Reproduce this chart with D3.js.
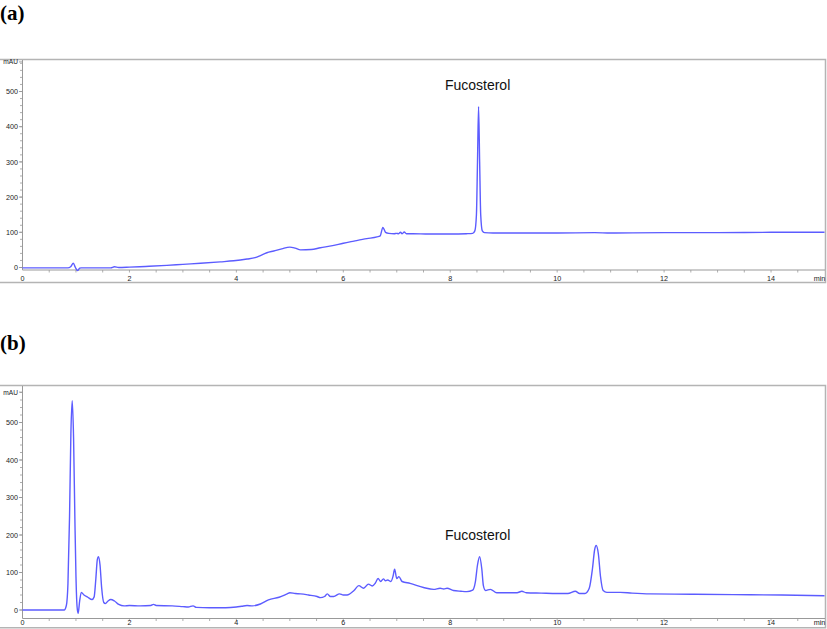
<!DOCTYPE html>
<html>
<head>
<meta charset="utf-8">
<script src="https://cdn.jsdelivr.net/npm/d3@7"></script>
<style>
  html, body { margin: 0; padding: 0; background: #fff; }
  svg { display: block; }
</style>
</head>
<body>
<svg id="chart" width="827" height="629"></svg>
<script>
// ---- Data ----
const timesA = [0,0.5,0.85,0.9,0.95,0.99,1.03,1.07,1.1,1.5,1.65,1.72,1.8,2.0,2.3,2.7,3.0,3.33,3.7,3.95,4.2,4.35,4.45,4.57,4.7,4.85,5.0,5.1,5.2,5.4,5.57,5.8,6.0,6.2,6.44,6.63,6.69,6.74,6.79,6.85,6.95,7.0,7.03,7.07,7.1,7.14,7.18,7.3,7.6,8.0,8.3,8.42,8.46,8.49,8.51,8.53,8.55,8.57,8.6,8.64,8.8,9.3,10.0,10.7,11.0,12,13,14,15];
const valuesA = [-1,-1,-1,2,12,0,-9,-2,-1,-1,-1,2,0,1,3,6,9,12,16,19,24,28,34,42,47,53,58,55,50,51,56,62,69,75,82,87,90,114,100,97,96,97,96,100,96,101,96,96,95,95,96,97,104,150,300,457,300,150,104,99,98,98,98,99,98,99,99,100,100];

const timesB = [0,0.5,0.78,0.82,0.85,0.88,0.905,0.93,0.955,0.98,1.0,1.02,1.04,1.07,1.1,1.15,1.22,1.3,1.34,1.37,1.4,1.42,1.45,1.48,1.52,1.55,1.6,1.65,1.72,1.8,1.9,2.0,2.2,2.4,2.45,2.5,2.8,3.0,3.1,3.19,3.25,3.5,3.8,4.0,4.1,4.2,4.3,4.45,4.6,4.8,4.95,5.0,5.1,5.2,5.35,5.51,5.57,5.65,5.7,5.76,5.82,5.93,6.0,6.07,6.2,6.29,6.38,6.47,6.54,6.6,6.65,6.7,6.75,6.79,6.83,6.89,6.93,6.96,7.0,7.04,7.1,7.25,7.5,7.69,7.81,7.88,7.94,8.06,8.2,8.31,8.42,8.47,8.51,8.55,8.59,8.62,8.66,8.75,8.87,9.0,9.25,9.34,9.42,9.7,10.0,10.2,10.34,10.42,10.52,10.6,10.66,10.7,10.73,10.77,10.81,10.86,10.93,11.18,11.4,11.74,12.5,13.3,14.2,15];
const valuesB = [0,0,0,12,70,250,470,558,460,240,90,10,-9,25,47,40,34,28,35,80,135,142,120,60,20,17,24,28,24,15,11,12,11,12,15,12,11,9,8,11,7,6,6,8,10,12,11,16,27,34,43,46,44,43,40,36,33,36,43,36,36,43,40,40,52,65,58,69,64,72,84,76,83,78,80,76,90,109,84,89,76,71,60,55,58,56,58,52,50,49,53,75,120,142,110,65,52,55,46,46,46,50,46,45,44,44,50,44,44,58,110,160,172,150,90,52,47,47,45,43,42,41,40,38];

const xMajorTicks = [0,2,4,6,8,10,12,14];
const xTickLabels = ["0","2","4","6","8","10","12","14"];
const yMajorTicks = [0,100,200,300,400,500];
const yTickLabels = ["0","100","200","300","400","500"];
const panelLabels = ["(a)","(b)"];
const peakLabel = "Fucosterol";
const peakLabelTimes = [8.53, 8.53];

// ---- Layout ----
const svg = d3.select("#chart");
const lineColor = "#5c5cff";
const frameColor = "#b4b4b4";
const axisColor = "#999";
const tickTextColor = "#222";

const panels = [
  { times: timesA, values: valuesA, frameTop: 59.5, frameBottom: 282.5, axisY: 270, tickLabelY: 280.5, y0: 267.5, y500: 91.5, yTop: 60, labelY: 20, mauVal: 584, peakY: 90 },
  { times: timesB, values: valuesB, frameTop: 385.5, frameBottom: 627.8, axisY: 618.5, tickLabelY: 625.3, y0: 610, y500: 422.5, yTop: 386, labelY: 350, mauVal: 581, peakY: 539.5 }
];

const x = d3.scaleLinear().domain([0, 15]).range([22.5, 824.5]);

panels.forEach((p, i) => {
  const g = svg.append("g");
  const y = d3.scaleLinear().domain([0, 500]).range([p.y0, p.y500]);

  g.append("path")
    .attr("d", `M0,${p.frameTop}H825.5V${p.frameBottom}H0`)
    .attr("fill", "none").attr("stroke", frameColor).attr("stroke-width", 1.5);

  g.append("text").attr("x", 0).attr("y", p.labelY)
    .attr("font-family", "'Liberation Serif','Times New Roman',serif")
    .attr("font-weight", "bold").attr("font-size", 21).attr("fill", "#000")
    .text(panelLabels[i]);

  g.append("line").attr("x1", 22.5).attr("x2", 22.5).attr("y1", p.yTop).attr("y2", p.axisY)
    .attr("stroke", axisColor).attr("stroke-width", 1);

  const yMinor = d3.range(-20, 600, 20).filter(v => y(v) < p.axisY - 1 && y(v) > p.yTop + 1);
  g.selectAll(".ymin").data(yMinor).enter().append("line")
    .attr("x1", 20).attr("x2", 22.5).attr("y1", d => y(d)).attr("y2", d => y(d))
    .attr("stroke", axisColor).attr("stroke-width", 0.8);
  g.selectAll(".ymaj").data(yMajorTicks).enter().append("line")
    .attr("x1", 19).attr("x2", 22.5).attr("y1", d => y(d)).attr("y2", d => y(d))
    .attr("stroke", axisColor).attr("stroke-width", 0.9);
  g.selectAll(".ylab").data(yMajorTicks).enter().append("text")
    .attr("x", 18).attr("y", d => y(d) + 2.6).attr("text-anchor", "end")
    .attr("font-family", "'Liberation Sans',Arial,sans-serif").attr("font-size", 7.2).attr("fill", tickTextColor)
    .text((d, k) => yTickLabels[k]);
  g.append("line").attr("x1", 19).attr("x2", 22.5).attr("y1", y(p.mauVal)).attr("y2", y(p.mauVal))
    .attr("stroke", axisColor).attr("stroke-width", 0.9);
  g.append("text").attr("x", 18).attr("y", y(p.mauVal) + 2.5).attr("text-anchor", "end")
    .attr("font-family", "'Liberation Sans',Arial,sans-serif").attr("font-size", 6.6).attr("fill", tickTextColor)
    .text("mAU");

  g.append("line").attr("x1", 22.5).attr("x2", 825).attr("y1", p.axisY).attr("y2", p.axisY)
    .attr("stroke", axisColor).attr("stroke-width", 1);
  const xMinor = d3.range(0.5, 15, 0.5);
  g.selectAll(".xmin").data(xMinor).enter().append("line")
    .attr("x1", d => x(d)).attr("x2", d => x(d)).attr("y1", p.axisY).attr("y2", p.axisY + 2.5)
    .attr("stroke", axisColor).attr("stroke-width", 0.8);
  g.selectAll(".xlab").data(xMajorTicks).enter().append("text")
    .attr("x", d => x(d)).attr("y", p.tickLabelY).attr("text-anchor", "middle")
    .attr("font-family", "'Liberation Sans',Arial,sans-serif").attr("font-size", 7.2).attr("fill", tickTextColor)
    .text((d, k) => xTickLabels[k]);
  g.append("text").attr("x", x(15) - 5).attr("y", p.tickLabelY).attr("text-anchor", "middle")
    .attr("font-family", "'Liberation Sans',Arial,sans-serif").attr("font-size", 7.2).attr("fill", tickTextColor)
    .text("min");

  const pts = p.times.map((t, k) => [t, p.values[k]]);
  const line = d3.line().x(d => x(d[0])).y(d => y(d[1])).curve(d3.curveMonotoneX);
  g.append("path").datum(pts).attr("d", line)
    .attr("fill", "none").attr("stroke", lineColor).attr("stroke-width", 1.4)
    .attr("stroke-linejoin", "round");

  g.append("text").attr("x", x(peakLabelTimes[i]) - 1).attr("y", p.peakY).attr("text-anchor", "middle")
    .attr("font-family", "'Liberation Sans',Arial,sans-serif").attr("font-size", 14).attr("fill", "#111")
    .text(peakLabel);
});
</script>
</body>
</html>
